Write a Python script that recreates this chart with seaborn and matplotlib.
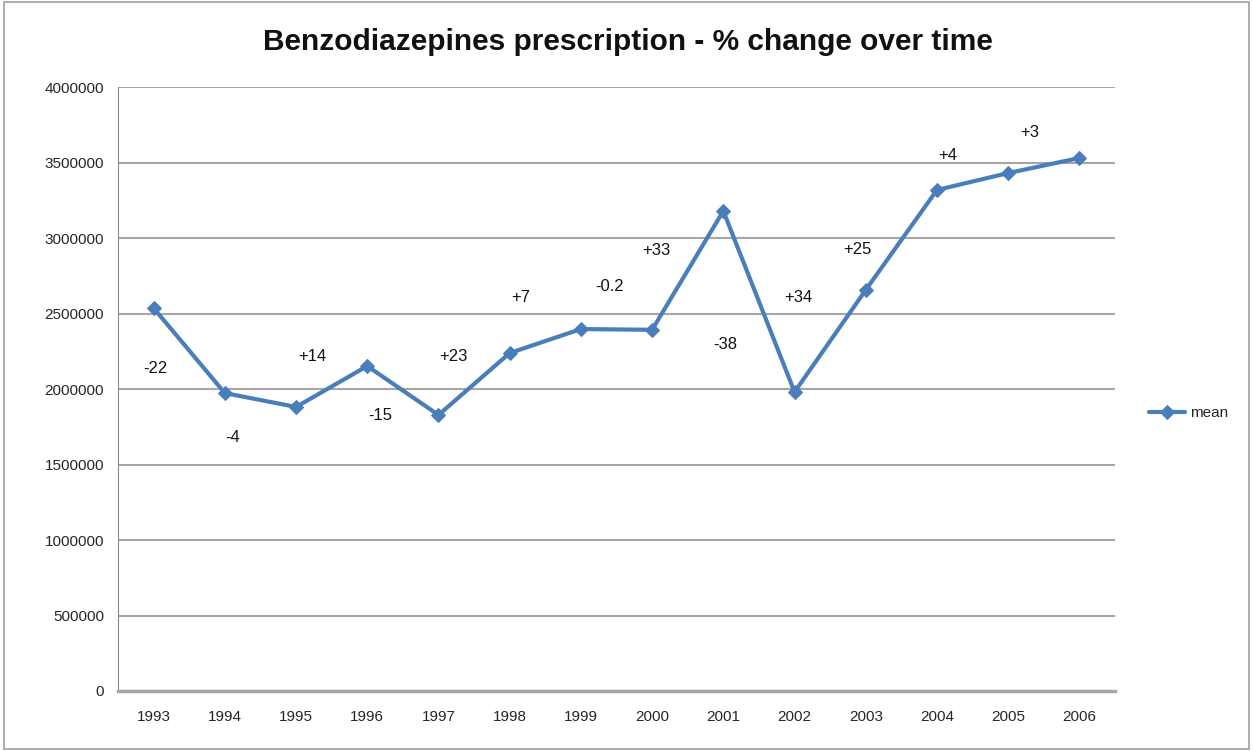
import matplotlib
matplotlib.use('Agg')
import matplotlib.pyplot as plt
import seaborn as sns
import pandas as pd
from matplotlib.patches import Rectangle

# values
years = ['1993', '1994', '1995', '1996', '1997', '1998', '1999',
         '2000', '2001', '2002', '2003', '2004', '2005', '2006']
mean_values = [2536000, 1973000, 1881000, 2152000, 1828000, 2238000, 2397000,
               2392000, 3179000, 1980000, 2656000, 3318000, 3430000, 3530000]
pct_labels = ['-22', '-4', '+14', '-15', '+23', '+7', '-0.2',
              '+33', '-38', '+34', '+25', '+4', '+3']
# label offsets from their point, in pixels (x right, y up)
label_dx = [2, 8, 16, 13, 15, 11, 29, 4, 2, 4, -8, 11, 22]
label_dy = [-60, -44, 50, -49, 58, 56, 43, 79, -134, 95, 40, 34, 41]

df = pd.DataFrame({'year': years, 'mean': mean_values})
df['pos'] = range(len(years))

sns.set_style('white')
plt.rcParams['font.family'] = ['Liberation Sans', 'DejaVu Sans']

fig = plt.figure(figsize=(12.53, 7.51), dpi=100)
ax = fig.add_axes([118 / 1253, 60 / 751, 997 / 1253, 604 / 751])

blue = '#4a7ebb'
sns.lineplot(data=df, x='pos', y='mean', ax=ax, color=blue, linewidth=3,
             marker='D', markersize=7, markeredgecolor=blue, label='mean')

for i, txt in enumerate(pct_labels):
    ax.annotate(txt, (df['pos'][i], df['mean'][i]), xytext=(label_dx[i], label_dy[i]),
                textcoords='offset pixels', ha='center', va='center', fontsize=12,
                color='#111111')

ax.set_xlim(-0.5, len(years) - 0.5)
ax.set_ylim(0, 4000000)
ax.set_yticks(range(0, 4000001, 500000))
ax.set_yticklabels([str(v) for v in range(0, 4000001, 500000)], fontsize=11)
ax.set_xticks([p + 0.5 for p in range(-1, len(years))], minor=False)
ax.set_xticklabels([])
ax.set_xticks(list(range(len(years))), minor=True)
ax.set_xticklabels(years, minor=True, fontsize=11)
ax.tick_params(axis='x', which='major', direction='out', length=6, color='#888888', width=1)
ax.tick_params(axis='x', which='minor', length=0, pad=14)
ax.tick_params(axis='y', direction='out', length=5, color='#888888', width=1, pad=5)

ax.yaxis.grid(True, color='#a6a6a6', linewidth=1.5)
ax.set_axisbelow(True)
for side in ['top', 'right']:
    ax.spines[side].set_visible(False)
ax.spines['left'].set_color('#888888')
ax.spines['bottom'].set_color('#a6a6a6')
ax.spines['bottom'].set_linewidth(2.5)
ax.set_xlabel('')
ax.set_ylabel('')

ax.legend(loc='center left', bbox_to_anchor=(1.02, 0.46), frameon=False,
          fontsize=11, handlelength=2.4, handletextpad=0.3)

fig.text(628 / 1253, 1 - 42 / 751, 'Benzodiazepines prescription - % change over time',
         ha='center', va='center', fontsize=21.5, fontweight='bold', color='#111111')

fig.patches.append(Rectangle((0.003, 0.003), 0.994, 0.994, transform=fig.transFigure,
                             fill=False, edgecolor='#a0a0a0', linewidth=1.2))

fig.savefig('out.png', dpi=100)
